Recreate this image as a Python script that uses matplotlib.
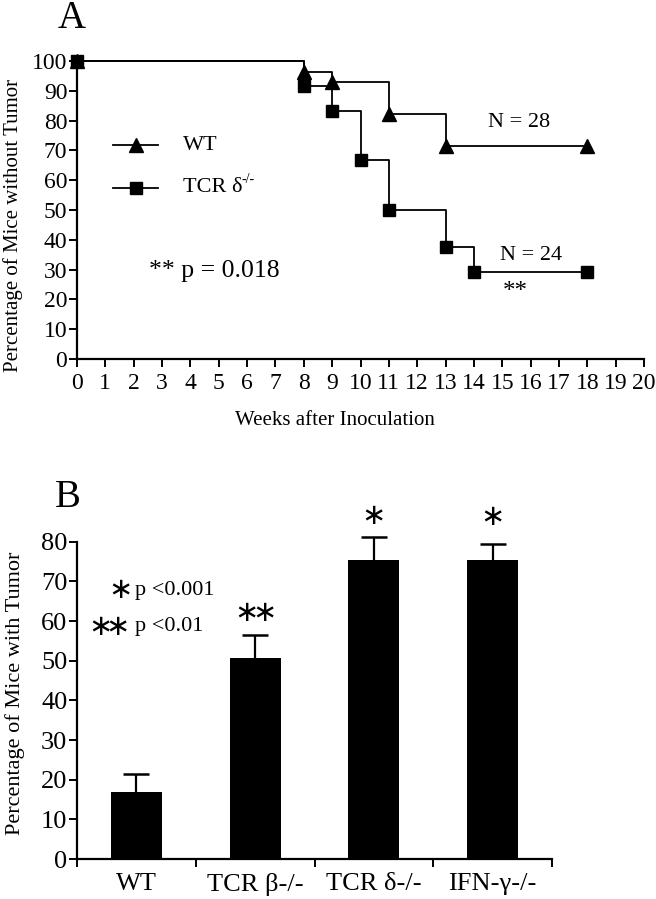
import numpy as np
import matplotlib
matplotlib.use("Agg")
from matplotlib import pyplot as plt

plt.rcParams['font.family'] = ['Liberation Serif', 'DejaVu Serif']

# panel A: tumor-free survival (%)
weeks_wt = [0, 8, 9, 11, 13, 18]
surv_wt = [100, 96.4, 92.9, 82.1, 71.4, 71.4]
weeks_tcr = [0, 8, 9, 10, 11, 13, 14, 18]
surv_tcr = [100, 91.7, 83.3, 66.7, 50.0, 37.5, 29.2, 29.2]

# panel B: percentage with tumor
groups = ['WT', 'TCR β-/-', 'TCR δ-/-', 'IFN-γ-/-']
tumor_pct = [17.0, 50.6, 75.5, 75.5]
tumor_err = [4.4, 5.9, 5.8, 3.8]
n_stars = [0, 2, 1, 1]
star_y = [0, 62.0, 86.6, 86.3]

W, H = 656, 899
fig = plt.figure(figsize=(W / 100, H / 100), dpi=100)

def ax_rect(l, t, r, b):
    return [l / W, 1 - b / H, (r - l) / W, (b - t) / H]

def star(axis, xx, yy):
    axis.text(xx, yy, '∗', fontsize=21, ha='center', va='center',
              family='DejaVu Sans', clip_on=False)

# ---------- A ----------
ax = fig.add_axes(ax_rect(77, 61, 644, 359))
ax.plot(weeks_wt, surv_wt, color='black', lw=1.3, drawstyle='steps-post', clip_on=False)
ax.plot(weeks_wt, surv_wt, ls='none', marker='^', ms=10, color='black', clip_on=False, zorder=3)
ax.plot(weeks_tcr, surv_tcr, color='black', lw=1.3, drawstyle='steps-post', clip_on=False)
ax.plot(weeks_tcr, surv_tcr, ls='none', marker='s', ms=9, color='black', clip_on=False, zorder=4)

ax.set_xlim(0, 20)
ax.set_ylim(0, 100)
ax.set_xticks(range(0, 21))
ax.set_yticks(range(0, 101, 10))
for s in ['top', 'right']:
    ax.spines[s].set_visible(False)
for s in ['left', 'bottom']:
    ax.spines[s].set_linewidth(1.6)
ax.tick_params(direction='out', length=6, width=1.4, labelsize=17, pad=1)
ax.tick_params(axis='x', pad=4)

# legend
lx = [1.27, 2.86]
for yy, mk, ms in [(71.8, '^', 10), (57.4, 's', 9)]:
    ax.plot(lx, [yy, yy], color='black', lw=1.3)
    ax.plot([np.mean(lx)], [yy], marker=mk, ms=ms, color='black')
ax.text(3.73, 71.8, 'WT', fontsize=16, va='center', ha='left')
ax.text(3.73, 57.4, 'TCR δ', fontsize=16, va='center', ha='left')
ax.text(5.8, 60.2, '-/-', fontsize=10, va='center', ha='left')

ax.text(2.55, 29.5, '** p = 0.018', fontsize=18.5, va='center', ha='left')
ax.text(15.6, 79.5, 'N = 28', fontsize=16, va='center', ha='center')
ax.text(16.0, 34.8, 'N = 24', fontsize=16, va='center', ha='center')
ax.text(15.45, 22.5, '**', fontsize=18, va='center', ha='center')

fig.text(72 / W, 1 - 18 / H, 'A', fontsize=28, ha='center', va='center')
fig.text(335 / W, 1 - 420 / H, 'Weeks after Inoculation', fontsize=15, ha='center', va='center')
fig.text(13 / W, 1 - 225 / H, 'Percentage of Mice without Tumor', fontsize=15,
         ha='center', va='center', rotation=90)

# ---------- B ----------
bx = fig.add_axes(ax_rect(77, 541.7, 552, 859))
x = np.arange(len(groups))
bx.bar(x, tumor_pct, width=0.43, color='black', linewidth=0, zorder=2)
tops = np.array(tumor_pct) + np.array(tumor_err)
bx.vlines(x, tumor_pct, tops, color='black', lw=1.6, clip_on=False, zorder=3)
bx.hlines(tops, x - 0.11, x + 0.11, color='black', lw=1.8, clip_on=False, zorder=3)
for xi, sy, n in zip(x, star_y, n_stars):
    for k in range(n):
        star(bx, xi + (k - (n - 1) / 2) * 0.15, sy)

bx.set_xlim(-0.5, len(groups) - 0.5)
bx.set_ylim(0, 80)
bx.set_yticks(range(0, 81, 10))
bx.set_xticks(x)
bx.set_xticklabels(groups)
bx.set_xticks(np.arange(-0.5, len(groups)), minor=True)
bx.tick_params(axis='x', which='major', length=0, labelsize=19, pad=10)
bx.tick_params(axis='x', which='minor', direction='out', length=6, width=1.4)
bx.tick_params(axis='y', direction='out', length=6, width=1.4, labelsize=19, pad=1)
for s in ['top', 'right']:
    bx.spines[s].set_visible(False)
for s in ['left', 'bottom']:
    bx.spines[s].set_linewidth(1.6)

star(bx, -0.13, 67.8)
bx.text(-0.013, 67.8, 'p <0.001', fontsize=16, ha='left', va='center')
star(bx, -0.30, 58.5)
star(bx, -0.155, 58.5)
bx.text(-0.013, 58.5, 'p <0.01', fontsize=16, ha='left', va='center')

fig.text(68 / W, 1 - 497 / H, 'B', fontsize=28, ha='center', va='center')
fig.text(15 / W, 1 - 693 / H, 'Percentage of Mice with Tumor', fontsize=16,
         ha='center', va='center', rotation=90)

fig.savefig('out.png', dpi=100)
